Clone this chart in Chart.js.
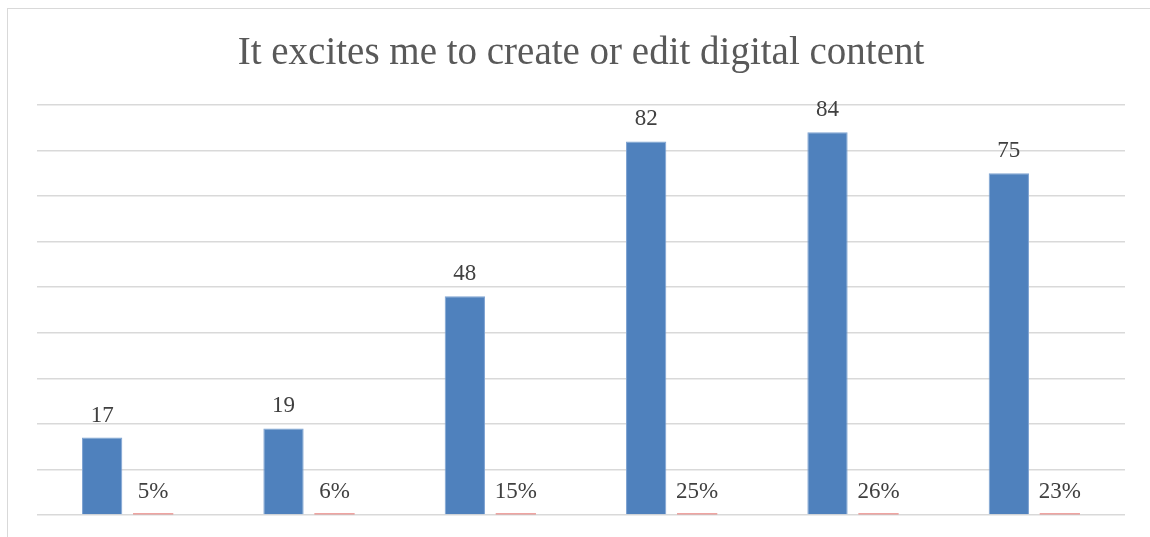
<!DOCTYPE html>
<html>
<head>
<meta charset="utf-8">
<script src="https://cdn.jsdelivr.net/npm/chart.js@4/dist/chart.umd.min.js"></script>
<style>
  html, body { margin: 0; padding: 0; background: #fff; }
  #wrap { position: relative; width: 1150px; height: 537px; overflow: hidden; }
  #frame {
    position: absolute; left: 7px; top: 8px; width: 1200px; height: 600px;
    border-left: 1.5px solid #d9d9d9; border-top: 1.5px solid #d9d9d9;
    pointer-events: none;
  }
  canvas { position: absolute; left: 0; top: 0; }
</style>
</head>
<body>
<div id="wrap">
  <div id="frame"></div>
  <canvas id="chart" width="1150" height="537"></canvas>
</div>
<script>
  // answer points along the scale (not printed under the bars)
  const categories = ['1', '2', '3', '4', '5', '6'];
  // respondents per answer
  const counts = [17, 19, 48, 82, 84, 75];
  // share of respondents per answer
  const shares = [0.05, 0.06, 0.15, 0.25, 0.26, 0.23];
  const yMax = 90;
  const yStep = 10;

  const TITLE = 'It excites me to create or edit digital content';

  const titlePlugin = {
    id: 'topTitle',
    afterDraw(chart) {
      const ctx = chart.ctx;
      ctx.save();
      ctx.font = '39px "Liberation Serif", "DejaVu Serif", serif';
      ctx.fillStyle = '#595959';
      ctx.textAlign = 'center';
      ctx.textBaseline = 'alphabetic';
      ctx.fillText(TITLE, 581, 64);
      ctx.restore();
    }
  };

  // value labels above each bar
  const valueLabels = {
    id: 'valueLabels',
    afterDatasetsDraw(chart) {
      const ctx = chart.ctx;
      ctx.save();
      ctx.font = '23px "Liberation Serif", "DejaVu Serif", serif';
      ctx.fillStyle = '#404040';
      ctx.textAlign = 'center';
      ctx.textBaseline = 'alphabetic';
      chart.data.datasets.forEach(function (ds, i) {
        const meta = chart.getDatasetMeta(i);
        meta.data.forEach(function (bar, j) {
          const v = ds.data[j];
          const txt = ds.isShare ? Math.round(v * 100) + '%' : String(v);
          ctx.fillText(txt, bar.x, bar.y - 16);
        });
      });
      ctx.restore();
    }
  };

  new Chart(document.getElementById('chart').getContext('2d'), {
    type: 'bar',
    data: {
      labels: categories,
      datasets: [
        {
          label: 'Count',
          data: counts,
          backgroundColor: '#4f81bd',
          borderColor: '#7ea3d2',
          borderWidth: 1,
          categoryPercentage: 0.5625,
          barPercentage: 0.79
        },
        {
          label: 'Share',
          data: shares,
          isShare: true,
          backgroundColor: '#e04a45',
          borderWidth: 0,
          minBarLength: 1.5,
          categoryPercentage: 0.5625,
          barPercentage: 0.79
        }
      ]
    },
    options: {
      responsive: false,
      animation: false,
      layout: { padding: { left: 37, right: 25, top: 105, bottom: 22 } },
      scales: {
        x: {
          grid: { display: false, drawTicks: false },
          border: { display: false },
          ticks: { display: false }
        },
        y: {
          min: 0,
          max: yMax,
          ticks: { display: false, stepSize: yStep },
          grid: { color: '#d9d9d9', lineWidth: 1.5, drawTicks: false },
          border: { display: false }
        }
      },
      plugins: {
        legend: { display: false },
        title: { display: false },
        tooltip: { enabled: false }
      }
    },
    plugins: [titlePlugin, valueLabels]
  });
</script>
</body>
</html>
